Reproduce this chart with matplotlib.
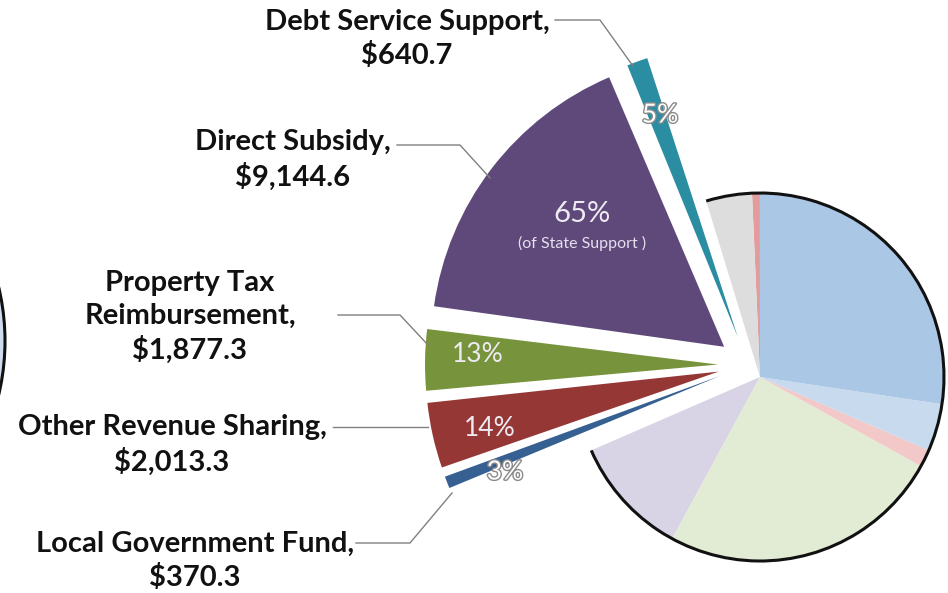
import numpy as np
import matplotlib
matplotlib.use("Agg")
import matplotlib.pyplot as plt
from matplotlib.patches import Wedge, Arc, Circle
import matplotlib.patheffects as pe

plt.rcParams['font.family'] = ['Lato', 'DejaVu Sans']

# state support pieces ($ millions)
state_names = ['Debt Service Support', 'Direct Subsidy', 'Property Tax\nReimbursement',
               'Other Revenue Sharing', 'Local Government Fund']
state_values = [640.7, 9144.6, 1877.3, 2013.3, 370.3]
state_colors = ['#2a8da2', '#5f497a', '#77933c', '#953735', '#366092']

# remaining (unlabelled) slices of the main pie
other_values = [5530, 13030, 800, 2180, 14340, 360, 2110]
other_colors = ['#d9d3e6', '#e2ebd3', '#f2c8c8', '#c8daee', '#abc7e6', '#e39c9c', '#dddddd']

W, H = 948, 593
fig = plt.figure(figsize=(W / 100, H / 100), dpi=100)
ax = fig.add_axes([0, 0, 1, 1])
ax.set_xlim(0, W)
ax.set_ylim(0, H)
ax.set_aspect('equal')
ax.axis('off')


def Y(y):
    # picture rows -> axis y
    return H - y


cx, cy, R = 760, Y(377), 184
total = sum(other_values) + sum(state_values)

# main pie
start = 203.5
a = start
for v, c in zip(other_values, other_colors):
    span = v / total * 360
    ax.add_patch(Wedge((cx, cy), R, a, a + span, facecolor=c, lw=0))
    a += span
hole_start = a
hole_end = start + 360
ax.add_patch(Arc((cx, cy), 2 * R, 2 * R, theta1=start, theta2=hole_start, color='#111111', lw=2.2))

# exploded state support wedges
gap = 1.0
usable = (hole_end - hole_start) - gap * (len(state_values) + 1)
ssum = sum(state_values)
sx, sy, expl, R2 = -12, 12, 30, 293
a = hole_start + gap
for v, c in zip(state_values, state_colors):
    span = v / ssum * usable
    m = np.radians(a + span / 2)
    px = cx + sx + expl * np.cos(m)
    py = cy + sy + expl * np.sin(m)
    ax.add_patch(Wedge((px, py), R2, a, a + span, facecolor=c, lw=0))
    a += span + gap

# partial pie cut off at the left edge
ax.add_patch(Circle((-228, Y(341)), 233, facecolor='#cddcee', edgecolor='#111111', lw=2.2))

# category labels
lab_pos = [(407, 39), (293, 160), (190, 317), (172, 445), (195, 561)]
for name, v, (x, y) in zip(state_names, state_values, lab_pos):
    ax.text(x, Y(y), f"{name},\n${v:,.1f}", ha='center', va='center',
            fontsize=21, fontweight='bold', color='#111111', linespacing=1.3)

leaders = [
    [(555, 20), (600, 20), (633, 66)],
    [(397, 145), (460, 145), (490, 178)],
    [(338, 315), (400, 315), (428, 345)],
    [(333, 427), (428, 427)],
    [(356, 543), (410, 543), (452, 493)],
]
for pts in leaders:
    xs = [p[0] for p in pts]
    ys = [Y(p[1]) for p in pts]
    ax.plot(xs, ys, color='#808080', lw=1)

# percentage labels
pcts = [round(v / ssum * 100) for v in state_values]
pct_pos = [(660, 115), (582, 214), (478, 355), (490, 428), (505, 472)]
pct_size = [19, 21, 19, 19, 19]
outlined = [True, False, False, False, True]
for p, (x, y), fs, o in zip(pcts, pct_pos, pct_size, outlined):
    t = ax.text(x, Y(y), f"{p}%", ha='center', va='center', fontsize=fs,
                color='white' if o else '#eeeaf2')
    if o:
        t.set_path_effects([pe.Stroke(linewidth=2, foreground='#8a8a8a'), pe.Normal()])
ax.text(582, Y(243), "(of State Support )", ha='center', va='center', fontsize=11.5,
        color='#e6e0ee')

fig.savefig("out.png", dpi=100)
